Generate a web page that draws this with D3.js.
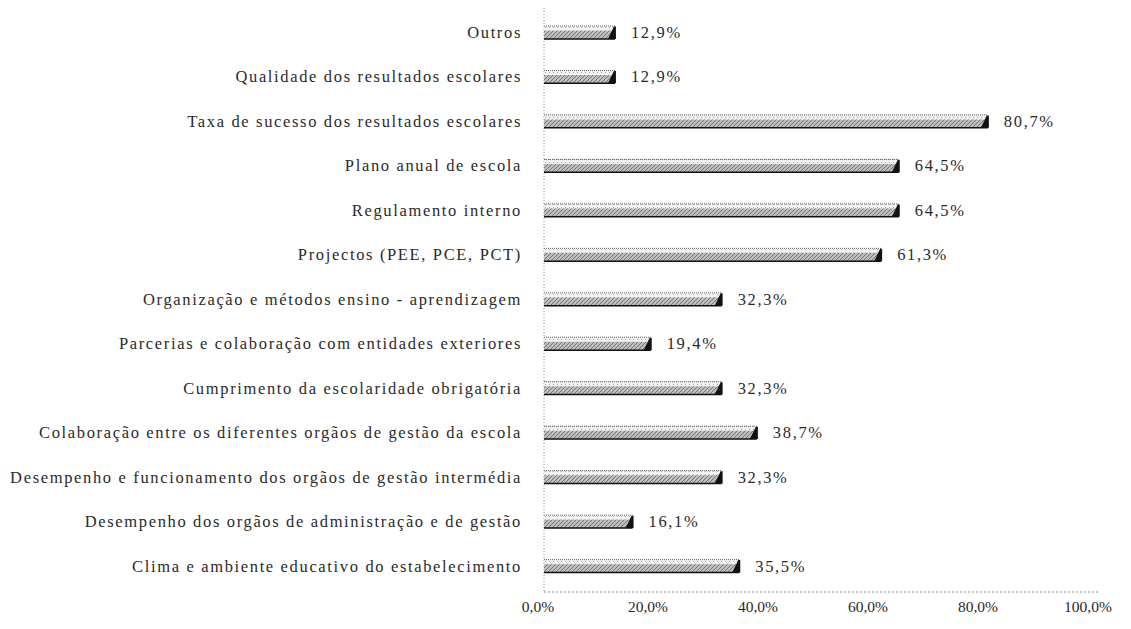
<!DOCTYPE html>
<html><head><meta charset="utf-8">
<script src="https://cdn.jsdelivr.net/npm/d3@7"></script>
</head><body style="margin:0;background:#fff">
<svg id="c" width="1131" height="629"></svg>
<script>
const categories = [
  "Outros",
  "Qualidade dos resultados escolares",
  "Taxa de sucesso dos resultados escolares",
  "Plano anual de escola",
  "Regulamento interno",
  "Projectos (PEE, PCE, PCT)",
  "Organização e métodos ensino - aprendizagem",
  "Parcerias e colaboração com entidades exteriores",
  "Cumprimento da escolaridade obrigatória",
  "Colaboração entre os diferentes orgãos de gestão da escola",
  "Desempenho e funcionamento dos orgãos de gestão intermédia",
  "Desempenho dos orgãos de administração e de gestão",
  "Clima e ambiente educativo do estabelecimento"
];
const values = [12.9, 12.9, 80.7, 64.5, 64.5, 61.3, 32.3, 19.4, 32.3, 38.7, 32.3, 16.1, 35.5];
const tickValues = [0, 20, 40, 60, 80, 100];
const fmt = v => v.toFixed(1).replace(".", ",") + "%";
const FONT = "Liberation Serif";

const svg = d3.select("#c");
const x = d3.scaleLinear().domain([0, 100]).range([544, 1094]);
const y = d3.scaleBand().domain(categories).range([10, 588]).paddingInner(0.7).paddingOuter(0.35);

const defs = svg.append("defs");
const p = defs.append("pattern").attr("id","tex").attr("patternUnits","userSpaceOnUse").attr("width",4).attr("height",4);
p.append("rect").attr("width",4).attr("height",4).attr("fill","#bdbdbd");
p.append("path").attr("d","M0,4 L4,0 M-1,1 L1,-1 M3,5 L5,3").attr("stroke","#6e6e6e").attr("stroke-width",0.9);
const p2 = defs.append("pattern").attr("id","tex2").attr("patternUnits","userSpaceOnUse").attr("width",4).attr("height",3);
p2.append("rect").attr("width",4).attr("height",3).attr("fill","#f2f2f2");
p2.append("rect").attr("x",1).attr("width",1).attr("height",1).attr("fill","#aaa");

// axes (dotted)
svg.append("line").attr("x1", x(0)).attr("x2", x(0)).attr("y1", 8).attr("y2", 592)
  .attr("stroke","#888").attr("stroke-width",1).attr("stroke-dasharray","1,2");
svg.append("line").attr("x1", x(0)).attr("x2", 1100).attr("y1", 592).attr("y2", 592)
  .attr("stroke","#888").attr("stroke-width",1).attr("stroke-dasharray","2,2");

const bh = y.bandwidth();
const g = svg.append("g").selectAll("g").data(categories).join("g");
// top face (light)
g.append("rect").attr("x", x(0)).attr("y", d => y(d)).attr("width", (d,i) => x(values[i]) - x(0)).attr("height", 5)
  .attr("fill","url(#tex2)");
g.append("line").attr("x1", x(0)).attr("x2", (d,i) => x(values[i])).attr("y1", d => y(d) + 0.5).attr("y2", d => y(d) + 0.5)
  .attr("stroke","#666").attr("stroke-width",1).attr("stroke-dasharray","1,1");
// front face
g.append("rect").attr("x", x(0)).attr("y", d => y(d) + 5).attr("width", (d,i) => x(values[i]) - x(0)).attr("height", bh - 5)
  .attr("fill","url(#tex)");
g.append("line").attr("x1", x(0)).attr("x2", (d,i) => x(values[i])).attr("y1", d => y(d) + bh).attr("y2", d => y(d) + bh)
  .attr("stroke","#111").attr("stroke-width",1.5);
// dark right end wedge
g.append("path").attr("d", (d,i) => {
  const xe = x(values[i]), yt = y(d), yb = y(d) + bh;
  return `M${xe-7},${yb} L${xe-1},${yt+1} L${xe+1},${yt+1} L${xe+1},${yb} Z`;
}).attr("fill","#111");

// category labels
svg.append("g").selectAll("text").data(categories).join("text")
  .attr("x", 522).attr("y", d => y(d) + bh/2).attr("dy","0.35em")
  .attr("text-anchor","end")
  .style("font-family", FONT).style("font-size","16.5px").style("letter-spacing","1.65px").style("fill","#2a2a2a")
  .text(d => d);

// value labels
svg.append("g").selectAll("text").data(categories).join("text")
  .attr("x", (d,i) => x(values[i]) + 16).attr("y", d => y(d) + bh/2).attr("dy","0.35em")
  .style("font-family", FONT).style("font-size","16.5px").style("letter-spacing","1.65px").style("fill","#2a2a2a")
  .text((d,i) => fmt(values[i]));

// tick labels
svg.append("g").selectAll("text").data(tickValues).join("text")
  .attr("x", d => x(d) - 6).attr("y", 612)
  .attr("text-anchor","middle")
  .style("font-family", FONT).style("font-size","15.5px").style("fill","#2a2a2a")
  .text(d => fmt(d));
</script>
</body></html>
